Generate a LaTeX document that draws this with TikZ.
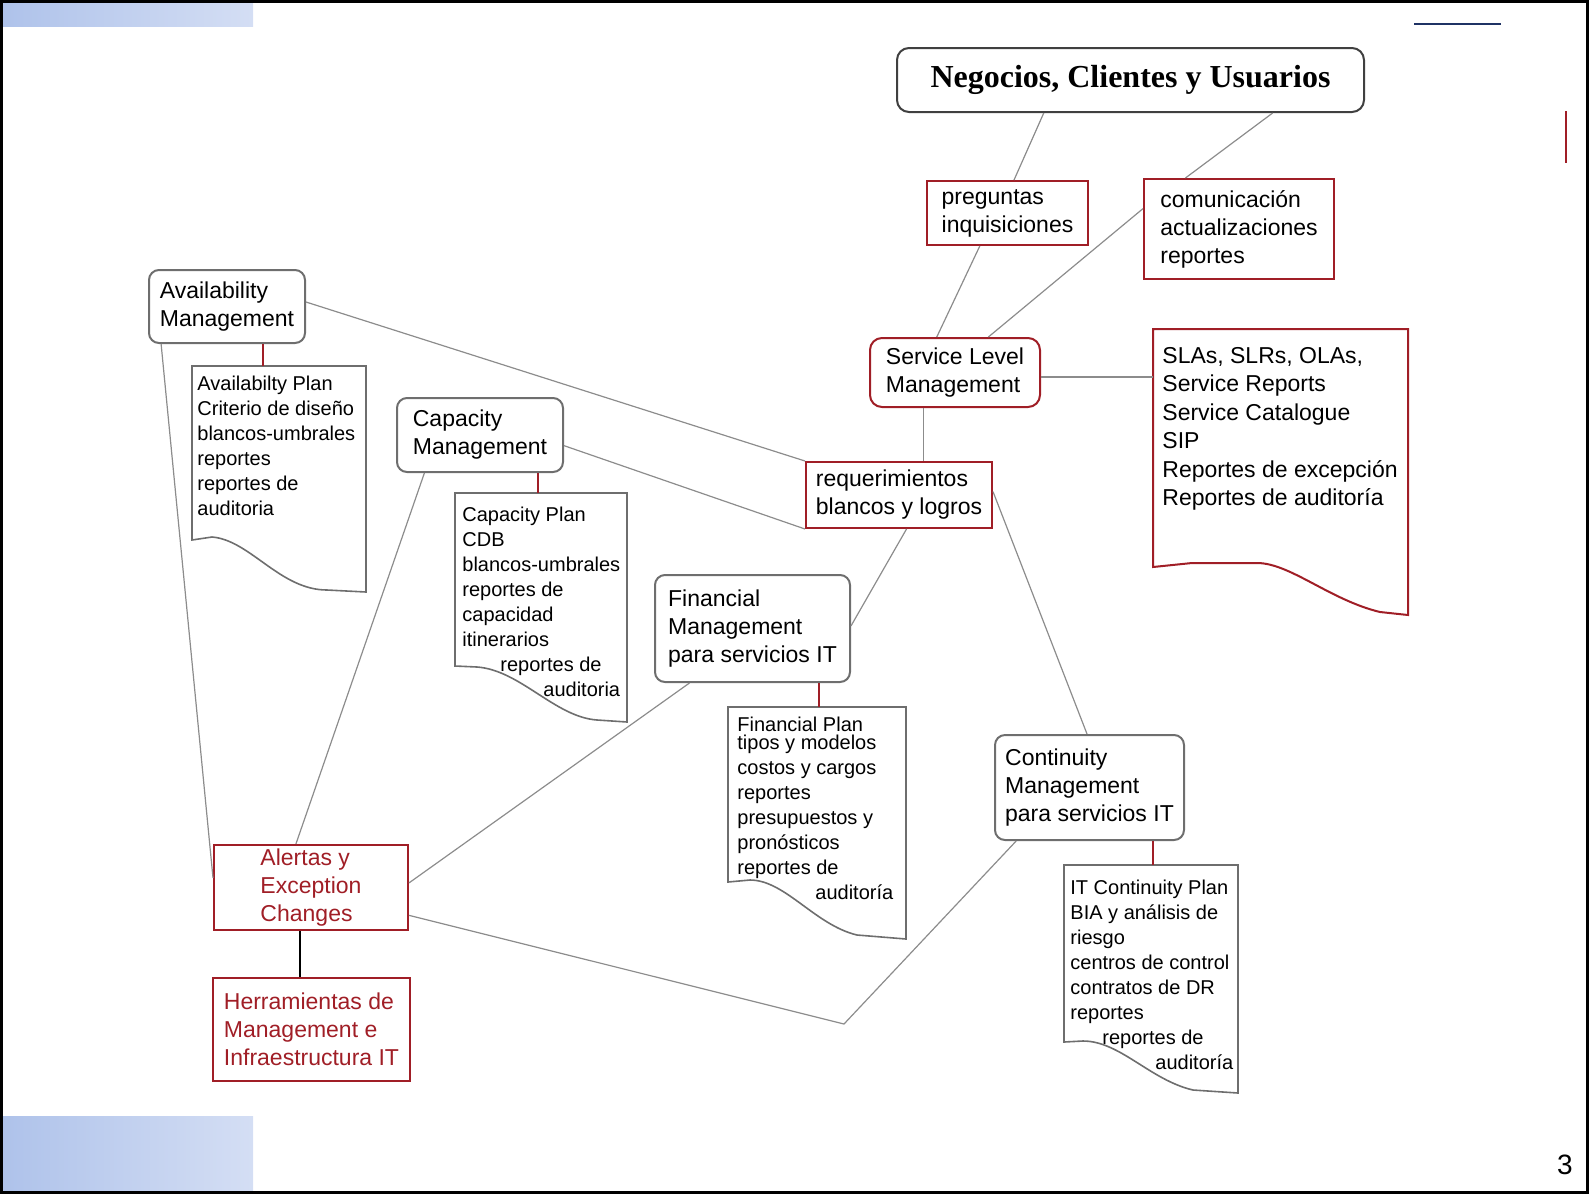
\documentclass[tikz,border=0pt]{standalone}
\usepackage{fontspec}
\setmainfont{Liberation Sans}
\newfontfamily\titlefont{Liberation Serif}
\usetikzlibrary{calc}
\definecolor{slred}{RGB}{160,30,38}
\definecolor{linkgray}{RGB}{140,140,140}
\definecolor{boxgray}{RGB}{110,110,110}
\definecolor{gradA}{RGB}{174,194,234}
\definecolor{gradB}{RGB}{212,222,244}
\definecolor{navyline}{RGB}{31,50,100}

\begin{document}
\begin{tikzpicture}[x=0.5pt,y=-0.5pt,
  every node/.style={inner sep=0pt},
  procbox/.style={draw=boxgray, line width=1pt, rounded corners=5pt, align=left, anchor=north west, font=\fontsize{11.5}{14}\selectfont},
  slmbox/.style={procbox, draw=slred},
  flowbox/.style={draw=slred, line width=1pt, align=left, anchor=north west, font=\fontsize{11.5}{14}\selectfont},
  alertbox/.style={flowbox, text=slred},
  plantext/.style={anchor=north west, align=left, font=\fontsize{10}{12.5}\selectfont},
  link/.style={draw=linkgray, line width=0.6pt},
  redtie/.style={draw=slred, line width=0.8pt},
  doc/.style={draw=boxgray, line width=0.8pt},
  reddoc/.style={draw=slred, line width=1pt}]
\useasboundingbox (0,0) rectangle (1589,1195);

%Shape: Gradient bars
\shade[left color=gradA, right color=gradB] (0,3) rectangle (253,26);
\shade[left color=gradA, right color=gradB] (0,1116) rectangle (253,1192);
%Shape: Frame
\draw[line width=1.5pt] (1.5,1.5) rectangle (1587,1192.5);
%Straight Lines
\draw[navyline, line width=1pt] (1414,24) -- (1501,24);
\draw[slred, line width=1pt] (1566,111) -- (1566,163);

% Boxes
\node[procbox, draw=black!75, rounded corners=6pt, minimum width=233.5pt, minimum height=32pt, font=\fontsize{16}{19}\selectfont] (neg) at (896,47) {\titlefont\bfseries Negocios, Clientes y Usuarios};
\node[flowbox, minimum width=80.5pt, minimum height=32pt] (preg) at (926,180) {preguntas\\inquisiciones};
\node[flowbox, minimum width=95pt, minimum height=50pt] (comm) at (1143,178) {comunicación\\actualizaciones\\reportes};
\node[slmbox, rounded corners=6pt, minimum width=85pt, minimum height=34.5pt] (slm) at (869,337) {Service Level\\Management};
\node[flowbox, minimum width=93pt, minimum height=33pt] (req) at (805,461) {requerimientos\\blancos y logros};
\node[procbox, minimum width=78pt, minimum height=36.5pt] (avail) at (148,269) {Availability\\Management};
\node[procbox, minimum width=83pt, minimum height=37pt] (cap) at (396,397) {Capacity\\Management};
\node[procbox, minimum width=97.5pt, minimum height=53.5pt] (fin) at (654,574) {Financial\\Management\\para servicios IT};
\node[procbox, minimum width=94.5pt, minimum height=52.5pt] (cont) at (994,734) {Continuity\\Management\\para servicios IT};
\node[alertbox, minimum width=97pt, minimum height=42.5pt] (alert) at (213,844) {Alertas y\\Exception\\Changes};
\node[alertbox, minimum width=98.5pt, minimum height=51.5pt] (herr) at (212,977) {Herramientas de\\Management e\\Infraestructura IT};

%Shape: Documents
\draw[reddoc] (1153,567) -- (1153,329) -- (1408,329) -- (1408,615) -- (1380,612) .. controls (1330,600) and (1290,563) .. (1257,563) -- (1192,563) -- cycle;
\draw[doc] (192,540) -- (192,366) -- (366,366) -- (366,592) -- (327,590) .. controls (280,590) and (250,540) .. (212,537) -- cycle;
\draw[doc] (455,666) -- (455,493) -- (627,493) -- (627,722) -- (597,720) .. controls (555,717) and (520,670) .. (477,667) -- cycle;
\draw[doc] (728,882) -- (728,707) -- (906,707) -- (906,939) -- (857,935) .. controls (815,925) and (785,880) .. (750,880) -- cycle;
\draw[doc] (1064,1042) -- (1064,865) -- (1238,865) -- (1238,1093) -- (1193,1090) .. controls (1150,1080) and (1120,1041) .. (1083,1041) -- cycle;

% Text Node
\node[plantext, font=\fontsize{11.5}{14.25}\selectfont] (slaplan) at (1162,347) {SLAs, SLRs, OLAs,\\Service Reports\\Service Catalogue\\SIP\\Reportes de excepción\\Reportes de auditoría};
\node[plantext] (availplan) at (197,376) {Availabilty Plan\\Criterio de diseño\\blancos-umbrales\\reportes\\reportes de\\auditoria};
\node[plantext] (capplan) at (462,507) {Capacity Plan\\CDB\\blancos-umbrales\\reportes de\\capacidad\\itinerarios\\\hspace*{19pt}reportes de\\\hspace*{40.5pt}auditoria};
\node[plantext] (finplan) at (737,717) {Financial Plan\\[-3.5pt]tipos y modelos\\costos y cargos\\reportes\\presupuestos y\\pronósticos\\reportes de\\\hspace*{39pt}auditoría};
\node[plantext] (contplan) at (1070,880) {IT Continuity Plan\\BIA y análisis de\\riesgo\\centros de control\\contratos de DR\\reportes\\\hspace*{16pt}reportes de\\\hspace*{42.5pt}auditoría};
\node[font=\fontsize{14}{16}\selectfont] (pagenum) at (1565,1165) {3};

% Plan tops
\coordinate (slaleft) at (1153,377);
\coordinate (availtop) at (263,366);
\coordinate (captop) at (538,493);
\coordinate (fintop) at (819,707);
\coordinate (conttop) at (1153,865);
\coordinate (dip) at (844,1024);

%Straight Lines
\draw[link] ($(neg.south west)!0.315!(neg.south east)$) -- ($(preg.north west)!0.54!(preg.north east)$);
\draw[link] ($(neg.south west)!0.803!(neg.south east)$) -- ($(comm.north west)!0.221!(comm.north east)$);
\draw[link] ($(preg.south west)!0.33!(preg.south east)$) -- ($(slm.north west)!0.394!(slm.north east)$);
\draw[link] ($(comm.north west)!0.3!(comm.south west)$) -- ($(slm.north west)!0.694!(slm.north east)$);
\draw[link] (slaleft -| slm.east) -- (slaleft);
\draw[link] ($(slm.south west)!0.318!(slm.south east)$) coordinate (slmfoot) -- (slmfoot |- req.north);
\draw[link] ($(avail.north east)!0.44!(avail.south east)$) -- (req.north west);
\draw[link] ($(cap.north east)!0.64!(cap.south east)$) -- (req.south west);
\draw[link] ($(fin.north east)!0.476!(fin.south east)$) -- ($(req.south west)!0.54!(req.south east)$);
\draw[link] ($(req.north east)!0.45!(req.south east)$) -- ($(cont.north west)!0.487!(cont.north east)$);
\draw[link] ($(avail.south west)!0.083!(avail.south east)$) -- ($(alert.north west)!0.39!(alert.south west)$);
\draw[link] ($(cap.south west)!0.169!(cap.south east)$) -- ($(alert.north west)!0.423!(alert.north east)$);
\draw[link] ($(fin.south west)!0.18!(fin.south east)$) -- ($(alert.north east)!0.447!(alert.south east)$);
\draw[link] ($(cont.south west)!0.116!(cont.south east)$) -- (dip) -- ($(alert.north east)!0.82!(alert.south east)$);
\draw[line width=0.8pt] ($(alert.south west)!0.443!(alert.south east)$) coordinate (alertfoot) -- (alertfoot |- herr.north);

%Straight Lines
\draw[redtie] (availtop |- avail.south) -- (availtop);
\draw[redtie] (captop |- cap.south) -- (captop);
\draw[redtie] (fintop |- fin.south) -- (fintop);
\draw[redtie] (conttop |- cont.south) -- (conttop);

\end{tikzpicture}
\end{document}
